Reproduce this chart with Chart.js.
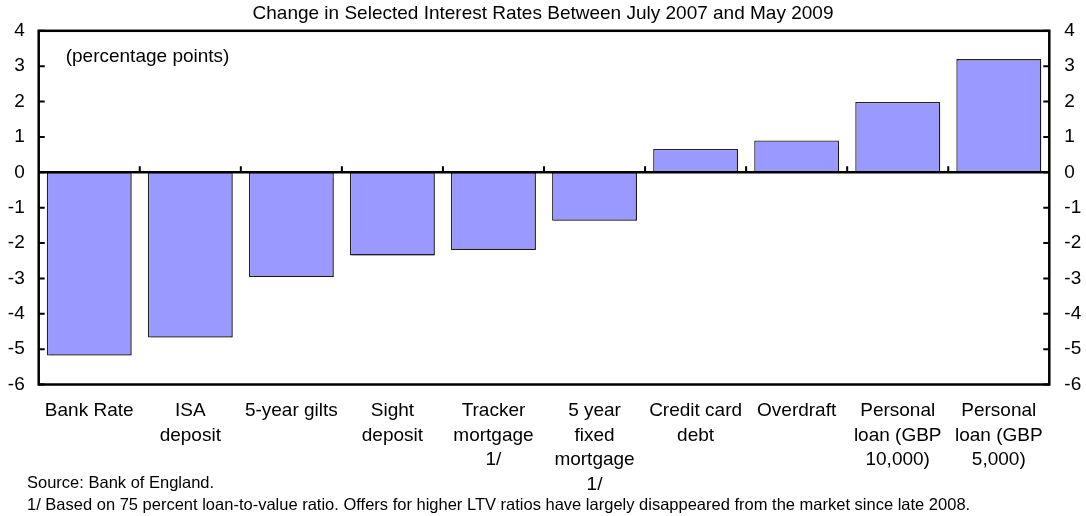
<!DOCTYPE html>
<html>
<head>
<meta charset="utf-8">
<script src="https://cdn.jsdelivr.net/npm/chart.js@4"></script>
<style>
  body { margin: 0; background: #fff; }
  canvas { display: block; }
</style>
</head>
<body>
<canvas id="chart" width="1086" height="516"></canvas>
<script>
const categories = [
  ['Bank Rate'],
  ['ISA', 'deposit'],
  ['5-year gilts'],
  ['Sight', 'deposit'],
  ['Tracker', 'mortgage', '1/'],
  ['5 year', 'fixed', 'mortgage', '1/'],
  ['Credit card', 'debt'],
  ['Overdraft'],
  ['Personal', 'loan (GBP', '10,000)'],
  ['Personal', 'loan (GBP', '5,000)']
];
const rateChanges = [-5.18, -4.67, -2.96, -2.35, -2.2, -1.37, 0.66, 0.9, 1.99, 3.2];
const yTicks = [4, 3, 2, 1, 0, -1, -2, -3, -4, -5, -6];

const chartTitle = 'Change in Selected Interest Rates Between July 2007 and May 2009';
const unitNote = '(percentage points)';
const sourceNote = 'Source: Bank of England.';
const footNote = '1/ Based on 75 percent loan-to-value ratio. Offers for higher LTV ratios have largely disappeared from the market since late 2008.';

const FONT = '"Liberation Sans", Arial, sans-serif';

// shadow under the bars
const barShadow = {
  id: 'barShadow',
  beforeDatasetsDraw(chart) {
    const ctx = chart.ctx;
    ctx.save();
    ctx.shadowColor = 'rgba(0,0,0,0.25)';
    ctx.shadowOffsetX = 2;
    ctx.shadowOffsetY = 2;
    ctx.shadowBlur = 1;
  },
  afterDatasetsDraw(chart) {
    chart.ctx.restore();
  }
};

// frame, zero line, inward ticks and notes
const frame = {
  id: 'frame',
  afterDatasetsDraw(chart) {
    const ctx = chart.ctx;
    const a = chart.chartArea;
    const x = chart.scales.x;
    const y = chart.scales.y;
    ctx.save();
    ctx.strokeStyle = '#000';
    ctx.lineWidth = 2.5;
    ctx.strokeRect(a.left, a.top, a.right - a.left, a.bottom - a.top);

    const y0 = y.getPixelForValue(0);
    ctx.beginPath();
    ctx.moveTo(a.left, y0);
    ctx.lineTo(a.right, y0);
    ctx.stroke();

    ctx.lineWidth = 2;
    ctx.beginPath();
    yTicks.forEach(v => {
      const py = y.getPixelForValue(v);
      ctx.moveTo(a.left, py);
      ctx.lineTo(a.left + 6, py);
      ctx.moveTo(a.right, py);
      ctx.lineTo(a.right - 6, py);
    });
    for (let i = 1; i < categories.length; i++) {
      const px = (x.getPixelForValue(i - 1) + x.getPixelForValue(i)) / 2;
      ctx.moveTo(px, y0);
      ctx.lineTo(px, y0 - 6);
    }
    ctx.stroke();

    ctx.fillStyle = '#000';
    ctx.textBaseline = 'middle';
    ctx.textAlign = 'left';
    ctx.font = '19px ' + FONT;
    ctx.fillText(unitNote, a.left + 27, a.top + 26);
    ctx.font = '16.5px ' + FONT;
    ctx.fillText(sourceNote, 27, 483);
    ctx.fillText(footNote, 27, 505);
    ctx.restore();
  }
};

new Chart(document.getElementById('chart'), {
  type: 'bar',
  data: {
    labels: categories,
    datasets: [{
      label: 'Change',
      data: rateChanges,
      backgroundColor: '#9999FF',
      borderColor: '#222',
      borderWidth: 1.3,
      borderSkipped: false,
      barPercentage: 0.84,
      categoryPercentage: 1
    }]
  },
  options: {
    responsive: false,
    animation: false,
    devicePixelRatio: 1,
    layout: { padding: 0 },
    plugins: {
      legend: { display: false },
      tooltip: { enabled: false },
      title: {
        display: true,
        text: chartTitle,
        color: '#000',
        font: { family: FONT, size: 19, weight: 'normal' },
        padding: { top: 2, bottom: 6 }
      }
    },
    scales: {
      x: {
        position: 'bottom',
        grid: { display: false, drawTicks: false },
        border: { display: false },
        ticks: {
          color: '#000',
          padding: 14,
          maxRotation: 0,
          autoSkip: false,
          font: { family: FONT, size: 19, lineHeight: 1.3 }
        },
        afterFit(scale) { scale.height = 131.5; }
      },
      y: {
        position: 'left',
        min: Math.min(...yTicks),
        max: Math.max(...yTicks),
        grid: { display: false, drawTicks: false },
        border: { display: false },
        ticks: {
          stepSize: 1,
          color: '#000',
          padding: 14,
          font: { family: FONT, size: 19 }
        },
        afterFit(scale) { scale.width = 38.7; }
      },
      y2: {
        position: 'right',
        min: Math.min(...yTicks),
        max: Math.max(...yTicks),
        grid: { display: false, drawTicks: false },
        border: { display: false },
        ticks: {
          stepSize: 1,
          color: '#000',
          padding: 15,
          font: { family: FONT, size: 19 }
        },
        afterFit(scale) { scale.width = 36.7; }
      }
    }
  },
  plugins: [barShadow, frame]
});
</script>
</body>
</html>
